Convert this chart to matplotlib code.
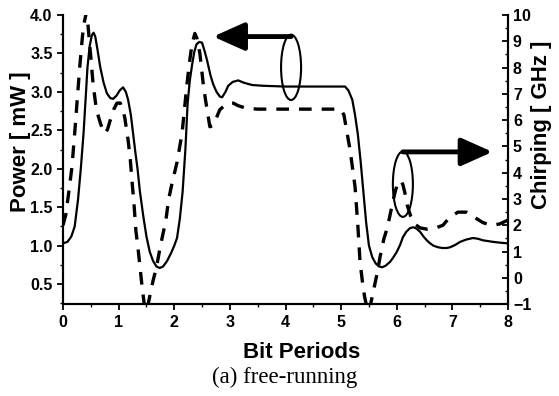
import matplotlib
matplotlib.use("Agg")
import matplotlib.pyplot as plt
from matplotlib.patches import Ellipse
from matplotlib.ticker import MultipleLocator, FormatStrFormatter

# power trace (solid, left axis)
power_x = [0.0, 0.08, 0.15, 0.21, 0.27, 0.32, 0.37, 0.41, 0.44, 0.48, 0.52, 0.55,
           0.58, 0.62, 0.67, 0.73, 0.79, 0.85, 0.9, 0.96, 1.02, 1.08, 1.13, 1.17,
           1.22, 1.26, 1.3, 1.34, 1.38, 1.44, 1.5, 1.56, 1.62, 1.68, 1.74, 1.8,
           1.87, 1.94, 2.0, 2.05, 2.1, 2.15, 2.2, 2.24, 2.28, 2.32, 2.36, 2.4,
           2.45, 2.5, 2.55, 2.59, 2.65, 2.7, 2.76, 2.82, 2.86, 2.92, 2.97, 3.05,
           3.15, 3.25, 3.4, 3.6, 4.0, 4.5, 5.0, 5.07, 5.13, 5.2, 5.25, 5.3,
           5.35, 5.4, 5.45, 5.5, 5.56, 5.62, 5.68, 5.74, 5.8, 5.88, 5.94, 6.0,
           6.06, 6.11, 6.17, 6.24, 6.3, 6.36, 6.42, 6.48, 6.54, 6.6, 6.66, 6.74,
           6.82, 6.9, 6.96, 7.05, 7.14, 7.25, 7.37, 7.46, 7.55, 7.64, 7.73, 7.85, 8.0]
power_y = [1.03, 1.05, 1.12, 1.25, 1.6, 2.0, 2.47, 2.95, 3.32, 3.6, 3.74, 3.77,
           3.72, 3.55, 3.32, 3.12, 2.98, 2.92, 2.91, 2.95, 3.02, 3.06, 3.0, 2.9,
           2.7, 2.46, 2.22, 2.0, 1.72, 1.4, 1.12, 0.92, 0.8, 0.73, 0.71, 0.73,
           0.8, 0.9, 1.0, 1.1, 1.35, 1.7, 2.25, 2.85, 3.15, 3.35, 3.52, 3.62,
           3.65, 3.64, 3.52, 3.41, 3.22, 3.1, 3.0, 2.94, 2.93, 3.0, 3.08, 3.13,
           3.15, 3.12, 3.09, 3.08, 3.07, 3.07, 3.07, 3.07, 3.02, 2.9, 2.7, 2.45,
           2.1, 1.7, 1.3, 1.0, 0.85, 0.77, 0.73, 0.72, 0.74, 0.79, 0.85, 0.92,
           1.01, 1.11, 1.18, 1.23, 1.24, 1.22, 1.18, 1.12, 1.07, 1.03, 1.0, 0.98,
           0.97, 0.97, 0.98, 1.01, 1.05, 1.08, 1.1, 1.09, 1.07, 1.06, 1.05, 1.04, 1.03]

# chirp trace (dashed, right axis)
chirp_x = [0.0, 0.05, 0.1, 0.16, 0.21, 0.26, 0.3, 0.35, 0.38, 0.42, 0.45, 0.5,
           0.54, 0.6, 0.67, 0.72, 0.76, 0.8, 0.85, 0.91, 0.97, 1.03, 1.08, 1.11,
           1.17, 1.21, 1.24, 1.28, 1.31, 1.35, 1.39, 1.42, 1.46, 1.5, 1.53, 1.57,
           1.62, 1.68, 1.75, 1.8, 1.85, 1.9, 1.95, 2.05, 2.14, 2.23, 2.28, 2.32,
           2.37, 2.41, 2.46, 2.52, 2.56, 2.59, 2.64, 2.7, 2.76, 2.82, 2.9, 3.0,
           3.06, 3.15, 3.3, 3.5, 4.0, 4.5, 4.95, 5.0, 5.05, 5.1, 5.16, 5.21,
           5.25, 5.3, 5.34, 5.38, 5.42, 5.46, 5.5, 5.55, 5.6, 5.65, 5.7, 5.77,
           5.83, 5.88, 5.93, 5.98, 6.03, 6.07, 6.11, 6.15, 6.19, 6.25, 6.32, 6.42,
           6.55, 6.7, 6.83, 6.95, 7.1, 7.25, 7.4, 7.55, 7.7, 7.85, 8.0]
chirp_y = [2.0, 2.4, 3.2, 4.2, 5.5, 6.9, 8.0, 9.2, 9.7, 10.1, 9.6, 8.4,
           7.4, 6.4, 5.9, 5.6, 5.5, 5.65, 6.0, 6.4, 6.65, 6.65, 6.35, 6.1,
           5.25, 4.5, 3.7, 2.7, 1.8, 1.1, 0.3, -0.3, -1.0, -1.3, -1.0, -0.6,
           -0.1, 0.4, 1.2, 1.7, 2.2, 3.0, 3.5, 4.4, 5.5, 7.4, 8.3, 8.9,
           9.3, 9.1, 8.55, 7.4, 6.8, 6.4, 5.75, 5.8, 6.1, 6.4, 6.55, 6.65,
           6.65, 6.55, 6.45, 6.42, 6.42, 6.42, 6.42, 6.38, 6.2, 5.6, 4.87, 4.1,
           3.46, 2.0, 0.6, -0.1, -0.7, -1.1, -1.3, -0.8, -0.3, 0.2, 0.8, 1.5,
           1.9, 2.4, 2.9, 3.35, 3.65, 3.7, 3.55, 3.2, 2.75, 2.35, 2.05, 1.9,
           1.85, 1.9, 2.0, 2.3, 2.5, 2.5, 2.3, 2.1, 2.0, 2.05, 2.2]

SANS = "Liberation Sans"
SERIF = "Liberation Serif"

fig = plt.figure(figsize=(5.59, 3.96), dpi=100)
ax = fig.add_axes([0.1127, 0.232, 0.7961, 0.730])
ax2 = ax.twinx()

ax.plot(power_x, power_y, color="black", lw=1.6, zorder=3)
ax2.plot(chirp_x, chirp_y, color="black", lw=2.4, dashes=(3.8, 3.0))

ax.set_xlim(0, 8)
ax.set_ylim(0.24, 4.0)
ax2.set_ylim(-1, 10)

for a in (ax, ax2):
    a.spines["top"].set_visible(False)
    for s in a.spines.values():
        s.set_linewidth(1.5)

ax.xaxis.set_major_locator(MultipleLocator(1))
ax.xaxis.set_minor_locator(MultipleLocator(0.5))
ax.yaxis.set_major_locator(MultipleLocator(0.5))
ax.yaxis.set_minor_locator(MultipleLocator(0.25))
ax.yaxis.set_major_formatter(FormatStrFormatter("%.1f"))
ax2.yaxis.set_major_locator(MultipleLocator(1))
ax2.yaxis.set_minor_locator(MultipleLocator(0.5))

ax.tick_params(which="major", direction="out", length=4, width=1.3)
ax.tick_params(which="minor", direction="out", length=2.5, width=1.0)
ax2.tick_params(which="major", direction="in", length=4, width=1.3)
ax2.tick_params(which="minor", direction="in", length=2.5, width=1.0)

for lab in ax.get_xticklabels() + ax.get_yticklabels() + ax2.get_yticklabels():
    lab.set_fontfamily(SANS)
    lab.set_fontweight("bold")
    lab.set_fontsize(11.5)

# ellipses + arrows marking which axis each curve belongs to
ax.add_patch(Ellipse((4.1, 3.32), 0.36, 0.85, fill=False, lw=1.5, color="black", zorder=4))
ax.annotate("", xy=(2.7, 3.72), xytext=(4.1, 3.72),
            arrowprops=dict(arrowstyle="-|>,head_length=1.9,head_width=0.85",
                            mutation_scale=10, lw=3.5, color="black",
                            shrinkA=0, shrinkB=0))
ax.add_patch(Ellipse((6.11, 1.80), 0.36, 0.85, fill=False, lw=1.5, color="black", zorder=4))
ax.annotate("", xy=(7.72, 2.22), xytext=(6.11, 2.22),
            arrowprops=dict(arrowstyle="-|>,head_length=1.9,head_width=0.85",
                            mutation_scale=10, lw=3.5, color="black",
                            shrinkA=0, shrinkB=0))

fig.text(0.036, 0.641, "Power [ mW ]", rotation=90, ha="center", va="center",
         family=SANS, weight="bold", fontsize=16)
fig.text(0.968, 0.684, "Chirping [ GHz ]", rotation=90, ha="center", va="center",
         family=SANS, weight="bold", fontsize=16)
fig.text(0.54, 0.111, "Bit Periods", ha="center", va="center",
         family=SANS, weight="bold", fontsize=16)
fig.text(0.51, 0.048, "(a) free-running", ha="center", va="center",
         family=SERIF, fontsize=16.5)

fig.savefig("out.png", dpi=100)
